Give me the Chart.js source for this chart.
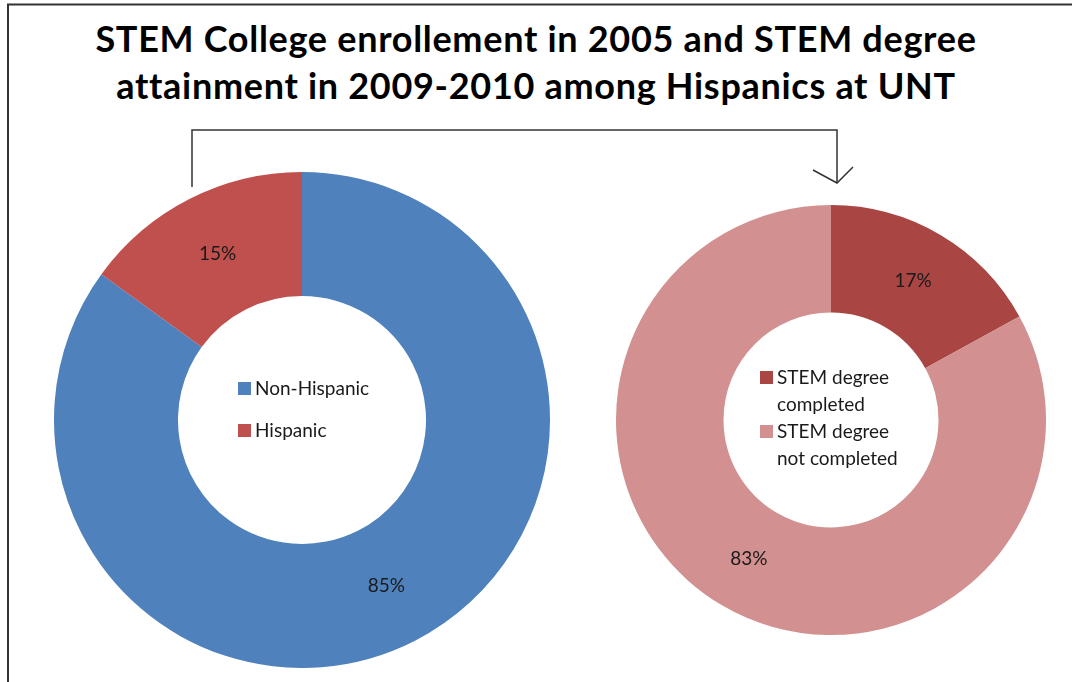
<!DOCTYPE html>
<html>
<head>
<meta charset="utf-8">
<script src="https://cdn.jsdelivr.net/npm/chart.js@4.4.1/dist/chart.umd.min.js"></script>
<style>
  html, body { margin: 0; padding: 0; background: #fff; }
  #wrap { position: relative; width: 1072px; height: 682px; overflow: hidden; }
  #title {
    position: absolute; left: 0; top: 15px; width: 1072px;
    text-align: center; font-family: Lato, sans-serif; font-weight: bold;
    font-size: 36px; line-height: 47px; letter-spacing: 0.7px; color: #000;
  }
  svg { position: absolute; left: 0; top: 0; }
  canvas { position: absolute; }
  #enroll { left: 54px; top: 172px; }
  #degree { left: 616px; top: 205px; }
</style>
</head>
<body>
<div id="wrap">
  <svg width="1072" height="682">
    <!-- outer frame -->
    <polyline points="8,682 8,4.5 1072,4.5" fill="none" stroke="#333" stroke-width="2"/>
    <!-- connector from the enrollment ring to the degree ring -->
    <polyline points="192,187 192,130 837,130 837,183" fill="none" stroke="#333" stroke-width="1.5"/>
    <polyline points="813,170 837,183 853,167" fill="none" stroke="#333" stroke-width="1.5"/>
  </svg>
  <div id="title">STEM College enrollement in 2005 and STEM degree<br>attainment in 2009-2010 among Hispanics at UNT</div>
  <canvas id="enroll" width="496" height="496"></canvas>
  <canvas id="degree" width="430" height="430"></canvas>
</div>
<script>
  var enrollLabels = ['Non-Hispanic', 'Hispanic'];
  var enrollValues = [85, 15];
  var enrollColors = ['#4F81BD', '#C0504D'];

  var degreeLabels = [['STEM degree', 'completed'], ['STEM degree', 'not completed']];
  var degreeValues = [17, 83];
  var degreeColors = ['#A94543', '#D29190'];

  // percent text in the middle of each slice
  var sliceLabels = {
    id: 'sliceLabels',
    afterDatasetsDraw: function (chart) {
      var ctx = chart.ctx;
      var data = chart.data.datasets[0].data;
      var total = data.reduce(function (a, b) { return a + b; }, 0);
      ctx.save();
      ctx.font = '19px Lato, sans-serif';
      ctx.fillStyle = '#1a1a1a';
      ctx.textAlign = 'center';
      ctx.textBaseline = 'middle';
      chart.getDatasetMeta(0).data.forEach(function (arc, i) {
        var p = arc.tooltipPosition();
        ctx.fillText(Math.round(data[i] / total * 100) + '%', p.x, p.y);
      });
      ctx.restore();
    }
  };

  // legend drawn inside the hole
  var holeLegend = {
    id: 'holeLegend',
    afterDraw: function (chart, args, opts) {
      var ctx = chart.ctx;
      var arc = chart.getDatasetMeta(0).data[0];
      var cx = arc.x, cy = arc.y;
      var colors = chart.data.datasets[0].backgroundColor;
      ctx.save();
      ctx.font = '19px Lato, sans-serif';
      ctx.textBaseline = 'middle';
      var y = cy + opts.top;
      chart.data.labels.forEach(function (lab, i) {
        var lines = Array.isArray(lab) ? lab : [lab];
        ctx.fillStyle = colors[i];
        ctx.fillRect(cx + opts.left, y - 7, 13, 13);
        ctx.fillStyle = '#1a1a1a';
        lines.forEach(function (t, j) {
          ctx.fillText(t, cx + opts.left + 17, y + j * opts.lineGap);
        });
        y += opts.step;
      });
      ctx.restore();
    }
  };

  function ring(id, labels, values, colors, legendOpts) {
    return new Chart(document.getElementById(id), {
      type: 'doughnut',
      data: {
        labels: labels,
        datasets: [{
          data: values,
          backgroundColor: colors,
          borderWidth: 0
        }]
      },
      options: {
        responsive: false,
        animation: false,
        cutout: '50%',
        plugins: {
          legend: { display: false },
          tooltip: { enabled: false },
          holeLegend: legendOpts
        }
      },
      plugins: [sliceLabels, holeLegend]
    });
  }

  ring('enroll', enrollLabels, enrollValues, enrollColors, { left: -64, top: -31, step: 42, lineGap: 0 });
  ring('degree', degreeLabels, degreeValues, degreeColors, { left: -71, top: -42, step: 54, lineGap: 27 });
</script>
</body>
</html>
